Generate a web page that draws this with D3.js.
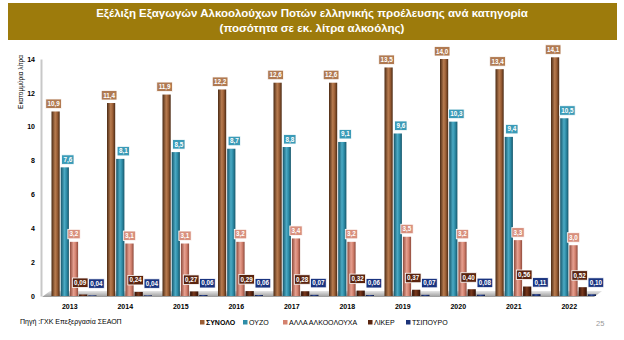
<!DOCTYPE html>
<html><head><meta charset="utf-8">
<script src="https://cdn.jsdelivr.net/npm/d3@7"></script>
<style>body{margin:0;background:#fff;}svg{display:block;}</style>
</head><body>
<script>
const years = ["2013","2014","2015","2016","2017","2018","2019","2020","2021","2022"];
const seriesNames = ["ΣΥΝΟΛΟ","ΟΥΖΟ","ΑΛΛΑ ΑΛΚΟΟΛΟΥΧΑ","ΛΙΚΕΡ","ΤΣΙΠΟΥΡΟ"];
const synolo = [10.9,11.4,11.9,12.2,12.6,12.6,13.5,14.0,13.4,14.1];
const ouzo = [7.6,8.1,8.5,8.7,8.8,9.1,9.6,10.3,9.4,10.5];
const alla = [3.2,3.1,3.1,3.2,3.4,3.2,3.5,3.2,3.3,3.0];
const liker = [0.09,0.24,0.27,0.29,0.28,0.32,0.37,0.40,0.56,0.52];
const tsipouro = [0.04,0.04,0.06,0.06,0.07,0.06,0.07,0.08,0.11,0.10];
const yTicks = [0,2,4,6,8,10,12,14];

const seriesValues = [synolo, ouzo, alla, liker, tsipouro];
const base = ["#9B5E35","#2E8DA8","#D4826F","#5A2510","#1B3278"];
const dark = ["#4A2A14","#17566A","#8E4A3C","#2E1006","#0D1A44"];
const light = ["#B87C50","#4BAAC4","#E6A090","#7A3A1E","#2E4A98"];
const labelFill = ["#B07A52","#3B9BB7","#D8907E","#5A2410","#1A3480"];
const decimals = [1,1,1,2,2];

const W = 624, H = 340;
const svg = d3.select("body").append("svg").attr("width", W).attr("height", H);
const defs = svg.append("defs");
base.forEach((c,i)=>{
  const g = defs.append("linearGradient").attr("id","g"+i).attr("x1","0").attr("x2","1").attr("y1","0").attr("y2","0");
  g.append("stop").attr("offset","0%").attr("stop-color",dark[i]);
  g.append("stop").attr("offset","45%").attr("stop-color",light[i]);
  g.append("stop").attr("offset","70%").attr("stop-color",base[i]);
  g.append("stop").attr("offset","100%").attr("stop-color",dark[i]);
});
const fg = defs.append("linearGradient").attr("id","floor").attr("x1","0").attr("x2","0").attr("y1","0").attr("y2","1");
fg.append("stop").attr("offset","0%").attr("stop-color","#e6e6e6");
fg.append("stop").attr("offset","100%").attr("stop-color","#9a9a9a");

// Title banner
svg.append("rect").attr("x",8).attr("y",3).attr("width",609).attr("height",37).attr("fill","#9D7B0C");
svg.append("text").attr("x",312).attr("y",17).attr("text-anchor","middle")
  .attr("font-family","Liberation Sans, Arial, sans-serif").attr("font-weight","bold").attr("font-size",11.5)
  .attr("fill","#fff").text("Εξέλιξη Εξαγωγών Αλκοολούχων Ποτών ελληνικής προέλευσης ανά κατηγορία");
svg.append("text").attr("x",312).attr("y",32).attr("text-anchor","middle")
  .attr("font-family","Liberation Sans, Arial, sans-serif").attr("font-weight","bold").attr("font-size",11.5)
  .attr("fill","#fff").text("(ποσότητα σε εκ. λίτρα αλκοόλης)");

const y = d3.scaleLinear().domain([0,14]).range([296,59]);
const x = d3.scaleBand().domain(years).range([42,597]);
const xs = d3.scaleBand().domain(d3.range(5)).range([9,55]);

// floor
svg.append("polygon")
  .attr("points",[[42,y(0)+1],[594,y(0)+1],[602,y(0)-5],[50,y(0)-5]].map(p=>p.join(",")).join(" "))
  .attr("fill","url(#floor)");

// y axis
const yAxis = d3.axisLeft(y).tickValues(yTicks).tickSize(0).tickPadding(6).tickFormat(d3.format("d"));
const ya = svg.append("g").attr("transform","translate(41,0)").call(yAxis);
ya.select(".domain").attr("stroke","#c8c8c8").attr("stroke-width",2);
ya.selectAll("text").attr("font-family","Liberation Sans, Arial, sans-serif").attr("font-weight","bold").attr("font-size",7).attr("fill","#000");

svg.append("text").attr("transform","translate(23,82) rotate(-90)").attr("text-anchor","middle")
  .attr("font-family","Liberation Sans, Arial, sans-serif").attr("font-size",6.5).attr("fill","#000")
  .text("Εκατομμύρια λίτρα");

// x axis labels
const xAxis = d3.axisBottom(x).tickSize(0).tickPadding(6);
const xa = svg.append("g").attr("transform","translate(0,"+(y(0)+2)+")").call(xAxis);
xa.select(".domain").remove();
xa.selectAll("text").attr("font-family","Liberation Sans, Arial, sans-serif").attr("font-weight","bold").attr("font-size",7).attr("fill","#000");

// bars
seriesValues.forEach((vals,si)=>{
  const g = svg.append("g");
  g.selectAll("rect").data(vals).join("rect")
    .attr("x",(d,i)=>x(years[i])+xs(si)+0.5)
    .attr("y",d=>y(d))
    .attr("width",xs.bandwidth()-1)
    .attr("height",d=>y(0)-y(d))
    .attr("fill","url(#g"+si+")");
});

// labels
const fmt = (v,dd)=>v.toFixed(dd).replace(".",",");
const dx = [-2,3,0,-3,4];
seriesValues.forEach((vals,si)=>{
  vals.forEach((v,i)=>{
    const txt = fmt(v,decimals[si]);
    const cx = x(years[i])+xs(si)+xs.bandwidth()/2 + dx[si];
    const gap = si>=3 ? 7 : 3;
    const bottom = y(v)-gap;
    const w = txt.length*3.3+2.5, h = 9.5;
    svg.append("rect").attr("x",cx-w/2).attr("y",bottom-h).attr("width",w).attr("height",h)
      .attr("fill",labelFill[si]).attr("stroke","#fff").attr("stroke-width",0.8);
    svg.append("text").attr("x",cx).attr("y",bottom-2.5).attr("text-anchor","middle")
      .attr("font-family","Liberation Sans, Arial, sans-serif").attr("font-weight","bold").attr("font-size",6.3)
      .attr("fill","#fff").text(txt);
  });
});

// legend
const legX = [200,243,283,368,406];
seriesNames.forEach((n,i)=>{
  svg.append("rect").attr("x",legX[i]).attr("y",320).attr("width",4.5).attr("height",4.5).attr("fill",base[i]);
  svg.append("text").attr("x",legX[i]+6).attr("y",324.8)
    .attr("font-family","Liberation Sans, Arial, sans-serif").attr("font-size",7)
    .attr("font-weight",i===0?"bold":"normal").attr("fill","#000").text(n);
});

svg.append("text").attr("x",20).attr("y",324).attr("font-family","Liberation Sans, Arial, sans-serif")
  .attr("font-size",7).attr("fill","#000").text("Πηγή :ΓΧΚ Επεξεργασία ΣΕΑΟΠ");
svg.append("text").attr("x",596).attr("y",326).attr("font-family","Liberation Sans, Arial, sans-serif")
  .attr("font-size",7.5).attr("fill","#999").text("25");
</script>
</body></html>
